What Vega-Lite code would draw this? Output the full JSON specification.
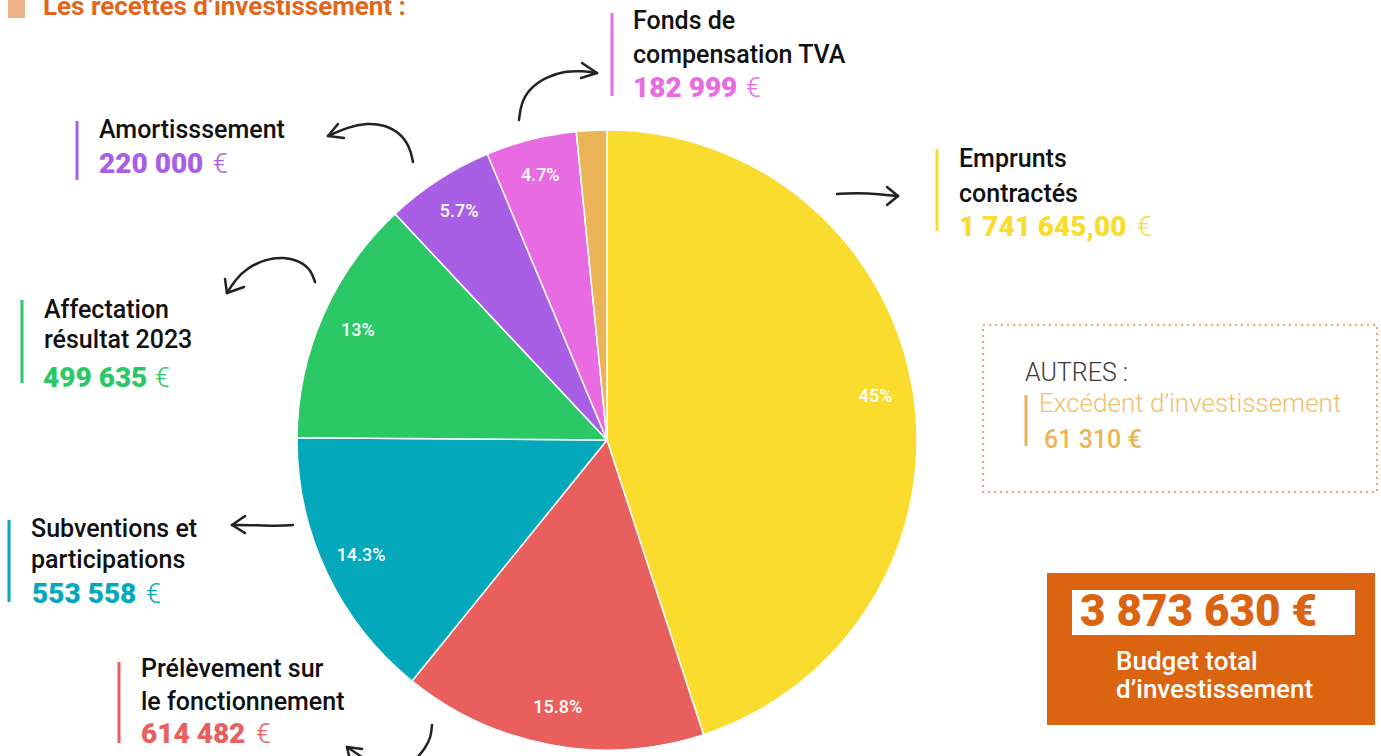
{
  "$schema": "https://vega.github.io/schema/vega-lite/v6.json",
  "width": 1381,
  "height": 756,
  "autosize": {"type": "fit", "contains": "padding"},
  "padding": 0,
  "background": "white",
  "config": {"view": {"stroke": null}},
  "datasets": {
    "slices": [
      {"cat": "Emprunts contractés", "value": 1741645, "ord": 1, "pct": "45%"},
      {"cat": "Prélèvement sur le fonctionnement", "value": 614482, "ord": 2, "pct": "15.8%"},
      {"cat": "Subventions et participations", "value": 553558, "ord": 3, "pct": "14.3%"},
      {"cat": "Affectation résultat 2023", "value": 499635, "ord": 4, "pct": "13%"},
      {"cat": "Amortisssement", "value": 220000, "ord": 5, "pct": "5.7%"},
      {"cat": "Fonds de compensation TVA", "value": 182999, "ord": 6, "pct": "4.7%"},
      {"cat": "Excédent d’investissement", "value": 61310, "ord": 7, "pct": ""}
    ],
    "names": [
      {"text": "Fonds de", "x": 633, "y": 29},
      {"text": "compensation TVA", "x": 633, "y": 63},
      {"text": "Amortisssement", "x": 99, "y": 138},
      {"text": "Emprunts", "x": 959, "y": 167},
      {"text": "contractés", "x": 959, "y": 202},
      {"text": "Affectation", "x": 44, "y": 318},
      {"text": "résultat 2023", "x": 44, "y": 348},
      {"text": "Subventions et", "x": 31, "y": 537},
      {"text": "participations", "x": 31, "y": 568},
      {"text": "Prélèvement sur", "x": 141, "y": 677},
      {"text": "le fonctionnement", "x": 141, "y": 710}
    ],
    "amounts": [
      {"cat": "Fonds de compensation TVA", "text": "182 999", "x": 633, "ex": 746, "y": 97},
      {"cat": "Amortisssement", "text": "220 000", "x": 99, "ex": 213, "y": 173},
      {"cat": "Emprunts contractés", "text": "1 741 645,00", "x": 959, "ex": 1137, "y": 236},
      {"cat": "Affectation résultat 2023", "text": "499 635", "x": 43, "ex": 155, "y": 387},
      {"cat": "Subventions et participations", "text": "553 558", "x": 32, "ex": 146, "y": 603},
      {"cat": "Prélèvement sur le fonctionnement", "text": "614 482", "x": 141, "ex": 256, "y": 743}
    ],
    "bars": [
      {"cat": "Fonds de compensation TVA", "x": 612, "y": 13, "y2": 96},
      {"cat": "Amortisssement", "x": 77, "y": 121, "y2": 180},
      {"cat": "Emprunts contractés", "x": 937, "y": 149, "y2": 231},
      {"cat": "Affectation résultat 2023", "x": 22, "y": 300, "y2": 383},
      {"cat": "Subventions et participations", "x": 9, "y": 520, "y2": 602},
      {"cat": "Prélèvement sur le fonctionnement", "x": 119, "y": 662, "y2": 743},
      {"cat": "Excédent d’investissement", "x": 1026, "y": 395, "y2": 446}
    ],
    "shapes": [
      {"shape": "marker", "x": 8, "x2": 25, "y": 0, "y2": 18},
      {"shape": "autres", "x": 983, "x2": 1377, "y": 325, "y2": 492},
      {"shape": "budget", "x": 1047, "x2": 1375, "y": 573, "y2": 725},
      {"shape": "budget_inner", "x": 1072, "x2": 1355, "y": 590, "y2": 635}
    ],
    "others": [
      {"id": "title", "text": "Les recettes d’investissement :", "x": 43, "y": 15},
      {"id": "autres", "text": "AUTRES :", "x": 1025, "y": 381},
      {"id": "excedent", "text": "Excédent d’investissement", "x": 1039, "y": 412},
      {"id": "excedent_val", "text": "61 310 €", "x": 1044, "y": 448},
      {"id": "total", "text": "3 873 630 €", "x": 1080, "y": 626},
      {"id": "budget", "text": "Budget total", "x": 1116, "y": 670},
      {"id": "budget", "text": "d’investissement", "x": 1116, "y": 698}
    ],
    "curves": [
      {"arrow": "fonds", "i": 0, "x": 519, "y": 120},
      {"arrow": "fonds", "i": 1, "x": 521, "y": 103},
      {"arrow": "fonds", "i": 2, "x": 530, "y": 88},
      {"arrow": "fonds", "i": 3, "x": 546, "y": 77},
      {"arrow": "fonds", "i": 4, "x": 565, "y": 71},
      {"arrow": "fonds", "i": 5, "x": 583, "y": 71},
      {"arrow": "fonds", "i": 6, "x": 597, "y": 73},
      {"arrow": "amort", "i": 0, "x": 413, "y": 162},
      {"arrow": "amort", "i": 1, "x": 410, "y": 147},
      {"arrow": "amort", "i": 2, "x": 400, "y": 133},
      {"arrow": "amort", "i": 3, "x": 385, "y": 125},
      {"arrow": "amort", "i": 4, "x": 367, "y": 123},
      {"arrow": "amort", "i": 5, "x": 348, "y": 127},
      {"arrow": "amort", "i": 6, "x": 328, "y": 136},
      {"arrow": "affect", "i": 0, "x": 315, "y": 282},
      {"arrow": "affect", "i": 1, "x": 311, "y": 270},
      {"arrow": "affect", "i": 2, "x": 300, "y": 261},
      {"arrow": "affect", "i": 3, "x": 284, "y": 257},
      {"arrow": "affect", "i": 4, "x": 266, "y": 259},
      {"arrow": "affect", "i": 5, "x": 247, "y": 268},
      {"arrow": "affect", "i": 6, "x": 235, "y": 280},
      {"arrow": "affect", "i": 7, "x": 227, "y": 293},
      {"arrow": "emprunts", "i": 0, "x": 837, "y": 194},
      {"arrow": "emprunts", "i": 1, "x": 858, "y": 193},
      {"arrow": "emprunts", "i": 2, "x": 879, "y": 194},
      {"arrow": "emprunts", "i": 3, "x": 898, "y": 196},
      {"arrow": "subv", "i": 0, "x": 293, "y": 525},
      {"arrow": "subv", "i": 1, "x": 272, "y": 526},
      {"arrow": "subv", "i": 2, "x": 251, "y": 525},
      {"arrow": "subv", "i": 3, "x": 232, "y": 525},
      {"arrow": "prel1", "i": 0, "x": 432, "y": 725},
      {"arrow": "prel1", "i": 1, "x": 431, "y": 737},
      {"arrow": "prel1", "i": 2, "x": 425, "y": 749},
      {"arrow": "prel1", "i": 3, "x": 415, "y": 760},
      {"arrow": "prel2", "i": 0, "x": 347, "y": 747},
      {"arrow": "prel2", "i": 1, "x": 356, "y": 753},
      {"arrow": "prel2", "i": 2, "x": 366, "y": 760}
    ],
    "heads": [
      {"x": 597, "y": 73, "x2": 582, "y2": 63},
      {"x": 597, "y": 73, "x2": 581, "y2": 78},
      {"x": 328, "y": 136, "x2": 338, "y2": 124},
      {"x": 328, "y": 136, "x2": 344, "y2": 138},
      {"x": 227, "y": 293, "x2": 225, "y2": 279},
      {"x": 227, "y": 293, "x2": 244, "y2": 287},
      {"x": 898, "y": 196, "x2": 887, "y2": 187},
      {"x": 898, "y": 196, "x2": 887, "y2": 205},
      {"x": 232, "y": 525, "x2": 245, "y2": 516},
      {"x": 232, "y": 525, "x2": 245, "y2": 533},
      {"x": 347, "y": 747, "x2": 362, "y2": 749},
      {"x": 347, "y": 747, "x2": 350, "y2": 760}
    ]
  },
  "layer": [
    {
      "data": {"name": "shapes"},
      "transform": [{"filter": "datum.shape === 'marker'"}],
      "mark": {"type": "rect", "fill": "#EFB38A", "clip": true},
      "encoding": {
        "x": {"field": "x", "type": "quantitative", "scale": {"domain": [0, 1381], "nice": false, "zero": false}, "axis": null},
        "x2": {"field": "x2"},
        "y": {"field": "y", "type": "quantitative", "scale": {"domain": [0, 756], "nice": false, "zero": false, "reverse": true}, "axis": null},
        "y2": {"field": "y2"}
      }
    },
    {
      "data": {"name": "shapes"},
      "transform": [{"filter": "datum.shape === 'autres'"}],
      "mark": {"type": "rect", "fill": null, "fillOpacity": 0, "stroke": "#F2A574", "strokeWidth": 2, "strokeDash": [2, 4], "clip": true},
      "encoding": {
        "x": {"field": "x", "type": "quantitative", "scale": {"domain": [0, 1381], "nice": false, "zero": false}, "axis": null},
        "x2": {"field": "x2"},
        "y": {"field": "y", "type": "quantitative", "scale": {"domain": [0, 756], "nice": false, "zero": false, "reverse": true}, "axis": null},
        "y2": {"field": "y2"}
      }
    },
    {
      "data": {"name": "shapes"},
      "transform": [{"filter": "datum.shape === 'budget'"}],
      "mark": {"type": "rect", "fill": "#DA6410", "clip": true},
      "encoding": {
        "x": {"field": "x", "type": "quantitative", "scale": {"domain": [0, 1381], "nice": false, "zero": false}, "axis": null},
        "x2": {"field": "x2"},
        "y": {"field": "y", "type": "quantitative", "scale": {"domain": [0, 756], "nice": false, "zero": false, "reverse": true}, "axis": null},
        "y2": {"field": "y2"}
      }
    },
    {
      "data": {"name": "shapes"},
      "transform": [{"filter": "datum.shape === 'budget_inner'"}],
      "mark": {"type": "rect", "fill": "white", "clip": true},
      "encoding": {
        "x": {"field": "x", "type": "quantitative", "scale": {"domain": [0, 1381], "nice": false, "zero": false}, "axis": null},
        "x2": {"field": "x2"},
        "y": {"field": "y", "type": "quantitative", "scale": {"domain": [0, 756], "nice": false, "zero": false, "reverse": true}, "axis": null},
        "y2": {"field": "y2"}
      }
    },
    {
      "data": {"name": "slices"},
      "mark": {"type": "arc", "outerRadius": 310, "stroke": "white", "strokeWidth": 1.5},
      "encoding": {
        "x": {"datum": 607, "type": "quantitative", "scale": {"domain": [0, 1381], "nice": false, "zero": false}, "axis": null},
        "y": {"datum": 440, "type": "quantitative", "scale": {"domain": [0, 756], "nice": false, "zero": false, "reverse": true}, "axis": null},
        "theta": {"field": "value", "type": "quantitative", "stack": true},
        "order": {"field": "ord", "type": "quantitative"},
        "color": {
          "field": "cat", "type": "nominal", "legend": null,
          "scale": {
            "domain": ["Emprunts contractés", "Prélèvement sur le fonctionnement", "Subventions et participations", "Affectation résultat 2023", "Amortisssement", "Fonds de compensation TVA", "Excédent d’investissement"],
            "range": ["#F9DC2E", "#E85F5E", "#03A9BA", "#2CC867", "#A95EE6", "#E96BE2", "#E9B556"]
          }
        }
      }
    },
    {
      "data": {"name": "slices"},
      "mark": {"type": "text", "radius": 272, "fill": "white", "font": "Roboto", "fontSize": 18, "fontWeight": 500, "align": "center", "baseline": "middle"},
      "encoding": {
        "x": {"datum": 607, "type": "quantitative", "scale": {"domain": [0, 1381], "nice": false, "zero": false}, "axis": null},
        "y": {"datum": 440, "type": "quantitative", "scale": {"domain": [0, 756], "nice": false, "zero": false, "reverse": true}, "axis": null},
        "theta": {"field": "value", "type": "quantitative", "stack": true},
        "order": {"field": "ord", "type": "quantitative"},
        "text": {"field": "pct", "type": "nominal"}
      }
    },
    {
      "data": {"name": "bars"},
      "mark": {"type": "rule", "strokeWidth": 3, "clip": true},
      "encoding": {
        "x": {"field": "x", "type": "quantitative", "scale": {"domain": [0, 1381], "nice": false, "zero": false}, "axis": null},
        "y": {"field": "y", "type": "quantitative", "scale": {"domain": [0, 756], "nice": false, "zero": false, "reverse": true}, "axis": null},
        "y2": {"field": "y2"},
        "color": {"field": "cat", "type": "nominal", "legend": null}
      }
    },
    {
      "data": {"name": "names"},
      "mark": {"type": "text", "align": "left", "baseline": "alphabetic", "font": "Roboto", "fontSize": 25, "fontWeight": 500, "fill": "#111111", "clip": true},
      "encoding": {
        "x": {"field": "x", "type": "quantitative", "scale": {"domain": [0, 1381], "nice": false, "zero": false}, "axis": null},
        "y": {"field": "y", "type": "quantitative", "scale": {"domain": [0, 756], "nice": false, "zero": false, "reverse": true}, "axis": null},
        "text": {"field": "text", "type": "nominal"}
      }
    },
    {
      "data": {"name": "amounts"},
      "mark": {"type": "text", "align": "left", "baseline": "alphabetic", "font": "Roboto", "fontSize": 28, "fontWeight": 900, "clip": true},
      "encoding": {
        "x": {"field": "x", "type": "quantitative", "scale": {"domain": [0, 1381], "nice": false, "zero": false}, "axis": null},
        "y": {"field": "y", "type": "quantitative", "scale": {"domain": [0, 756], "nice": false, "zero": false, "reverse": true}, "axis": null},
        "text": {"field": "text", "type": "nominal"},
        "color": {"field": "cat", "type": "nominal", "legend": null}
      }
    },
    {
      "data": {"name": "amounts"},
      "mark": {"type": "text", "align": "left", "baseline": "alphabetic", "font": "Roboto", "fontSize": 27, "fontWeight": 300, "text": "€", "clip": true},
      "encoding": {
        "x": {"field": "ex", "type": "quantitative", "scale": {"domain": [0, 1381], "nice": false, "zero": false}, "axis": null},
        "y": {"field": "y", "type": "quantitative", "scale": {"domain": [0, 756], "nice": false, "zero": false, "reverse": true}, "axis": null},
        "color": {"field": "cat", "type": "nominal", "legend": null}
      }
    },
    {
      "data": {"name": "others"},
      "transform": [{"filter": "datum.id === 'title'"}],
      "mark": {"type": "text", "align": "left", "baseline": "alphabetic", "font": "Roboto", "fontSize": 26, "fontWeight": "bold", "fill": "#E0661C", "clip": true},
      "encoding": {
        "x": {"field": "x", "type": "quantitative", "scale": {"domain": [0, 1381], "nice": false, "zero": false}, "axis": null},
        "y": {"field": "y", "type": "quantitative", "scale": {"domain": [0, 756], "nice": false, "zero": false, "reverse": true}, "axis": null},
        "text": {"field": "text", "type": "nominal"}
      }
    },
    {
      "data": {"name": "others"},
      "transform": [{"filter": "datum.id === 'autres'"}],
      "mark": {"type": "text", "align": "left", "baseline": "alphabetic", "font": "Roboto", "fontSize": 25, "fontWeight": 300, "fill": "#3A3A3A", "clip": true},
      "encoding": {
        "x": {"field": "x", "type": "quantitative", "scale": {"domain": [0, 1381], "nice": false, "zero": false}, "axis": null},
        "y": {"field": "y", "type": "quantitative", "scale": {"domain": [0, 756], "nice": false, "zero": false, "reverse": true}, "axis": null},
        "text": {"field": "text", "type": "nominal"}
      }
    },
    {
      "data": {"name": "others"},
      "transform": [{"filter": "datum.id === 'excedent'"}],
      "mark": {"type": "text", "align": "left", "baseline": "alphabetic", "font": "Roboto", "fontSize": 26, "fontWeight": 300, "fill": "#F0C06C", "clip": true},
      "encoding": {
        "x": {"field": "x", "type": "quantitative", "scale": {"domain": [0, 1381], "nice": false, "zero": false}, "axis": null},
        "y": {"field": "y", "type": "quantitative", "scale": {"domain": [0, 756], "nice": false, "zero": false, "reverse": true}, "axis": null},
        "text": {"field": "text", "type": "nominal"}
      }
    },
    {
      "data": {"name": "others"},
      "transform": [{"filter": "datum.id === 'excedent_val'"}],
      "mark": {"type": "text", "align": "left", "baseline": "alphabetic", "font": "Roboto", "fontSize": 25, "fontWeight": 500, "fill": "#EBB553", "clip": true},
      "encoding": {
        "x": {"field": "x", "type": "quantitative", "scale": {"domain": [0, 1381], "nice": false, "zero": false}, "axis": null},
        "y": {"field": "y", "type": "quantitative", "scale": {"domain": [0, 756], "nice": false, "zero": false, "reverse": true}, "axis": null},
        "text": {"field": "text", "type": "nominal"}
      }
    },
    {
      "data": {"name": "others"},
      "transform": [{"filter": "datum.id === 'total'"}],
      "mark": {"type": "text", "align": "left", "baseline": "alphabetic", "font": "Roboto", "fontSize": 44, "fontWeight": 900, "fill": "#DA6410", "clip": true},
      "encoding": {
        "x": {"field": "x", "type": "quantitative", "scale": {"domain": [0, 1381], "nice": false, "zero": false}, "axis": null},
        "y": {"field": "y", "type": "quantitative", "scale": {"domain": [0, 756], "nice": false, "zero": false, "reverse": true}, "axis": null},
        "text": {"field": "text", "type": "nominal"}
      }
    },
    {
      "data": {"name": "others"},
      "transform": [{"filter": "datum.id === 'budget'"}],
      "mark": {"type": "text", "align": "left", "baseline": "alphabetic", "font": "Roboto", "fontSize": 26, "fontWeight": 500, "fill": "white", "clip": true},
      "encoding": {
        "x": {"field": "x", "type": "quantitative", "scale": {"domain": [0, 1381], "nice": false, "zero": false}, "axis": null},
        "y": {"field": "y", "type": "quantitative", "scale": {"domain": [0, 756], "nice": false, "zero": false, "reverse": true}, "axis": null},
        "text": {"field": "text", "type": "nominal"}
      }
    },
    {
      "data": {"name": "curves"},
      "mark": {"type": "line", "interpolate": "basis", "stroke": "#222222", "strokeWidth": 2.5, "strokeCap": "round", "clip": true},
      "encoding": {
        "x": {"field": "x", "type": "quantitative", "scale": {"domain": [0, 1381], "nice": false, "zero": false}, "axis": null},
        "y": {"field": "y", "type": "quantitative", "scale": {"domain": [0, 756], "nice": false, "zero": false, "reverse": true}, "axis": null},
        "detail": {"field": "arrow", "type": "nominal"},
        "order": {"field": "i", "type": "quantitative"}
      }
    },
    {
      "data": {"name": "heads"},
      "mark": {"type": "rule", "stroke": "#222222", "strokeWidth": 2.5, "strokeCap": "round", "clip": true},
      "encoding": {
        "x": {"field": "x", "type": "quantitative", "scale": {"domain": [0, 1381], "nice": false, "zero": false}, "axis": null},
        "y": {"field": "y", "type": "quantitative", "scale": {"domain": [0, 756], "nice": false, "zero": false, "reverse": true}, "axis": null},
        "x2": {"field": "x2"},
        "y2": {"field": "y2"}
      }
    }
  ]
}
